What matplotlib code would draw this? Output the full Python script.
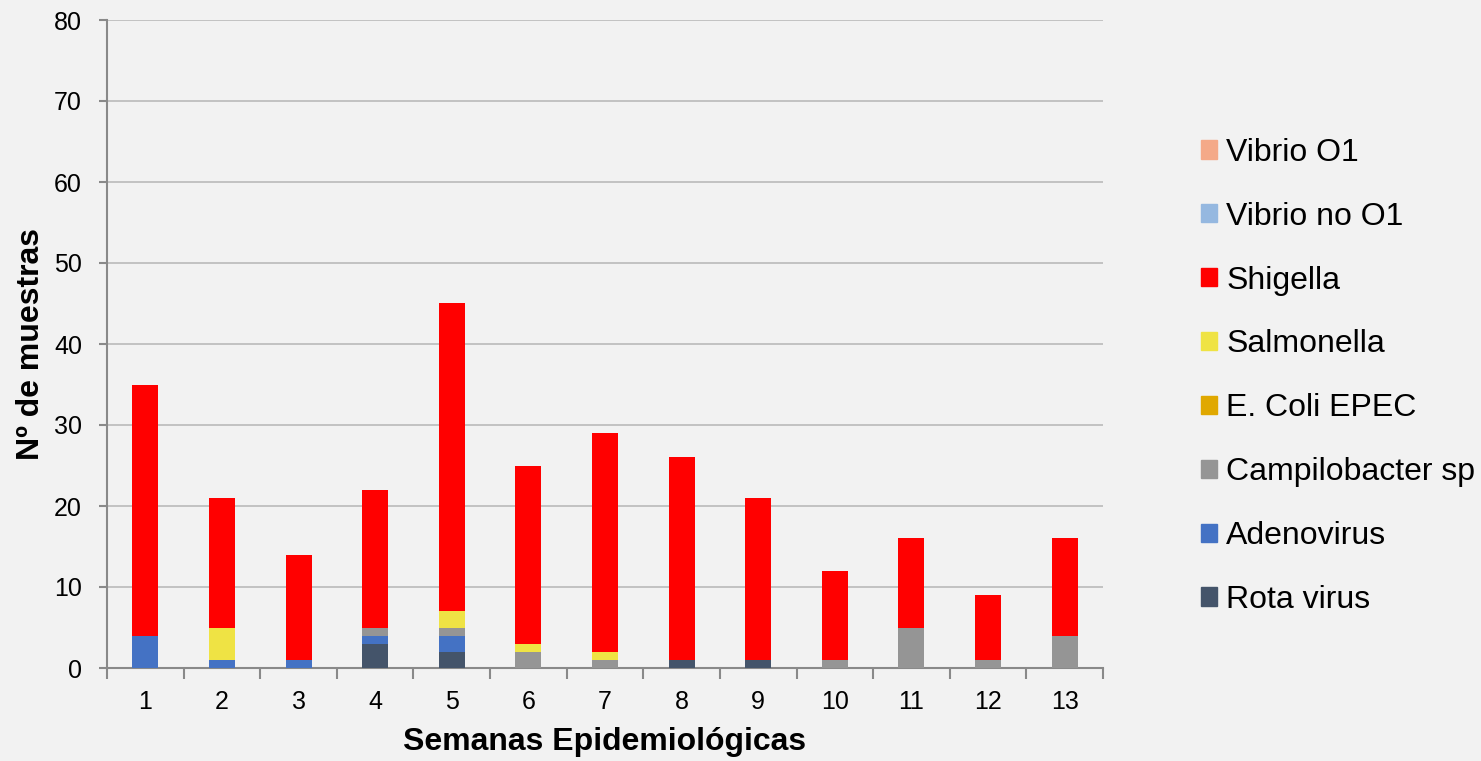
import numpy as np
from matplotlib import pyplot as plt
from matplotlib.patches import Patch

plt.rcParams['font.family'] = ['Liberation Sans', 'DejaVu Sans']

# weeks and counts per pathogen
weeks = [str(i) for i in range(1, 14)]
rota = [0, 0, 0, 3, 2, 0, 0, 1, 1, 0, 0, 0, 0]
adeno = [4, 1, 1, 1, 2, 0, 0, 0, 0, 0, 0, 0, 0]
campilo = [0, 0, 0, 1, 1, 2, 1, 0, 0, 1, 5, 1, 4]
ecoli = [0, 0, 0, 0, 0, 0, 0, 0, 0, 0, 0, 0, 0]
salmonella = [0, 4, 0, 0, 2, 1, 1, 0, 0, 0, 0, 0, 0]
shigella = [31, 16, 13, 17, 38, 22, 27, 25, 20, 11, 11, 8, 12]
vibrio_no = [0, 0, 0, 0, 0, 0, 0, 0, 0, 0, 0, 0, 0]
vibrio_o1 = [0, 0, 0, 0, 0, 0, 0, 0, 0, 0, 0, 0, 0]

series = [
    ("Rota virus", rota, "#44546a"),
    ("Adenovirus", adeno, "#4472c4"),
    ("Campilobacter sp", campilo, "#959595"),
    ("E. Coli EPEC", ecoli, "#e0a800"),
    ("Salmonella", salmonella, "#efe344"),
    ("Shigella", shigella, "#ff0000"),
    ("Vibrio no O1", vibrio_no, "#95b8e0"),
    ("Vibrio O1", vibrio_o1, "#f4a988"),
]

bg = "#f2f2f2"
fig = plt.figure(figsize=(14.81, 7.61), dpi=100, facecolor=bg)
ax = fig.add_axes([107/1481, 93/761, 996/1481, 648/761], facecolor=bg)

x = np.arange(len(weeks))
bottom = np.zeros(len(weeks))
for name, vals, col in series:
    ax.bar(x, vals, 0.34, bottom=bottom, color=col, label=name, zorder=3)
    bottom += np.array(vals)

ax.set_xlim(-0.5, len(weeks) - 0.5)
ax.set_ylim(0, 80)
ax.set_yticks(range(0, 81, 10))
ax.yaxis.grid(True, color="#bfbfbf", linewidth=1.3, zorder=0)

ax.set_xticks(x)
ax.set_xticklabels(weeks)
ax.set_xticks(np.arange(-0.5, len(weeks), 1), minor=True)
ax.tick_params(axis='x', which='major', length=0, labelsize=18, pad=16)
ax.tick_params(axis='x', which='minor', length=8, width=1.5, color="#898989")
ax.tick_params(axis='y', length=6, width=1.5, color="#898989", labelsize=18, pad=12)

for s in ['top', 'right']:
    ax.spines[s].set_visible(False)
for s in ['left', 'bottom']:
    ax.spines[s].set_color("#898989")
    ax.spines[s].set_linewidth(1.5)

ax.set_xlabel("Semanas Epidemiológicas", fontsize=23, fontweight='bold', labelpad=9)
ax.set_ylabel("Nº de muestras", fontsize=23, fontweight='bold', labelpad=6)

handles = [Patch(color=col, label=name) for name, vals, col in reversed(series)]
fig.legend(handles=handles, loc='upper left', bbox_to_anchor=(1188/1481, 1 - 125/761),
           frameon=False, fontsize=23, handlelength=0.5, handleheight=0.5,
           handletextpad=0.3, labelspacing=1.06, borderaxespad=0)

fig.savefig("out.png", dpi=100, facecolor=bg)
